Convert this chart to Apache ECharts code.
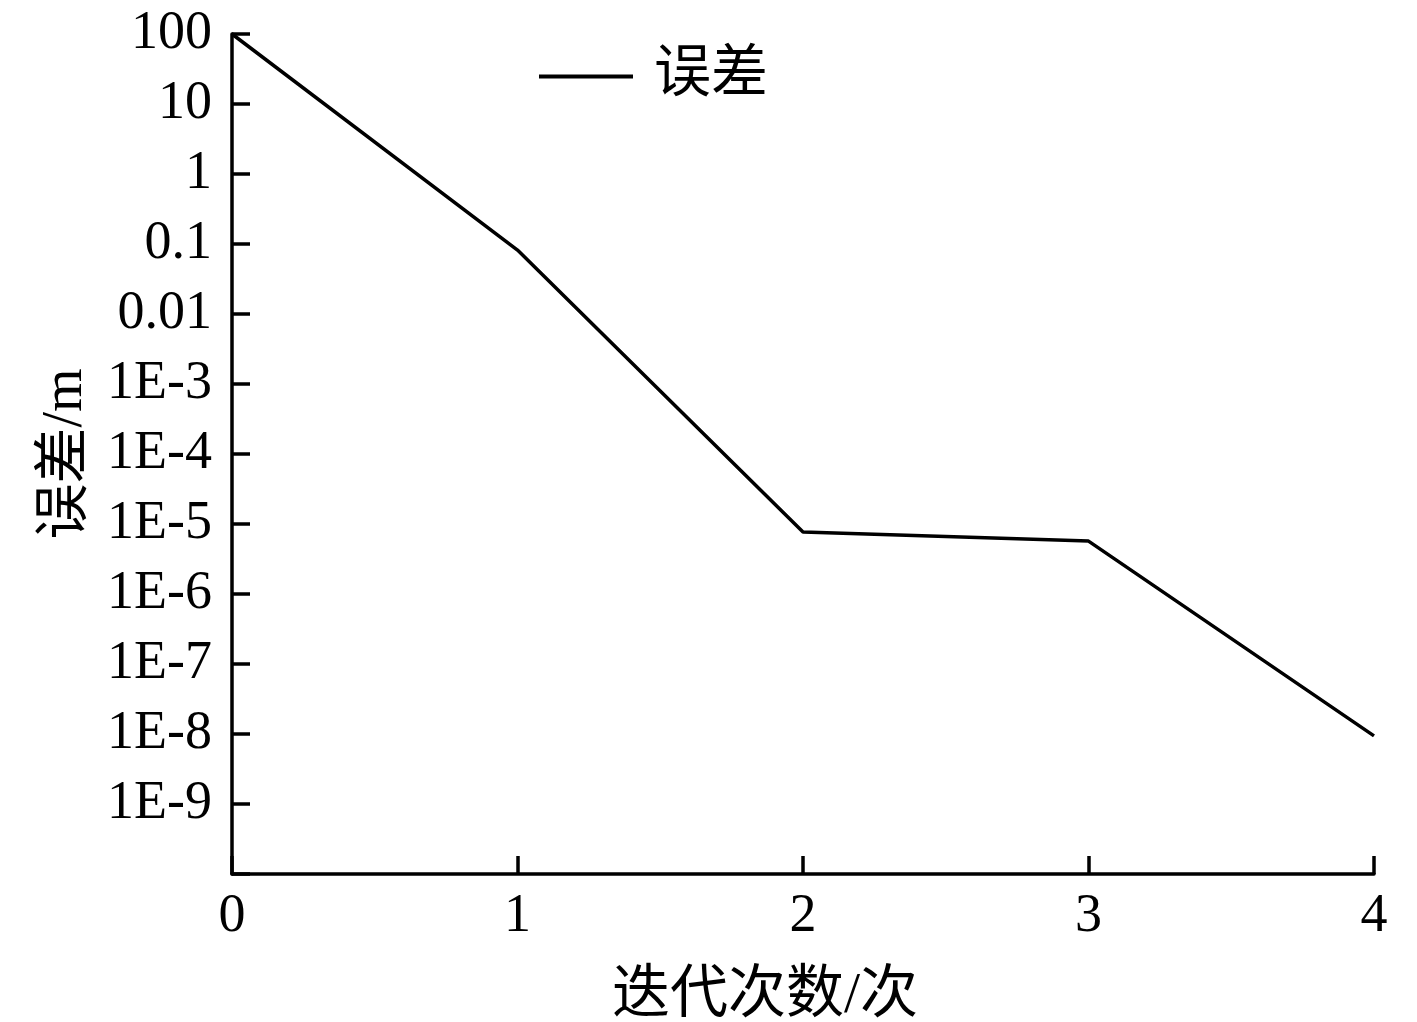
<!DOCTYPE html>
<html><head><meta charset="utf-8">
<script src="https://cdn.jsdelivr.net/npm/echarts@6/dist/echarts.min.js"></script>
<style>html,body{margin:0;padding:0;background:#fff}#c{width:1417px;height:1022px}</style>
</head><body><div id="c"></div>
<script>
const iterations = [0, 1, 2, 3, 4];
const errorValues = [100, 0.082, 7.7e-6, 5.7e-6, 9.4e-9];
const seriesName = '误差';
const xTitle = '迭代次数/次';
const yTitle = '误差/m';

const FONT = "'Liberation Serif', 'Noto Sans CJK SC', serif";
const chart = echarts.init(document.getElementById('c'));
function yLabel(v) {
  const e = Math.round(Math.log10(v));
  if (e <= -10) return '';
  if (e >= 0) return String(Math.pow(10, e));
  if (e === -1) return '0.1';
  if (e === -2) return '0.01';
  return '1E' + e;
}
chart.setOption({
  animation: false,
  backgroundColor: '#fff',
  grid: { left: 232, right: 43, top: 34, bottom: 148, containLabel: false, outerBoundsMode: 'none' },
  legend: {
    left: 534, top: 43,
    icon: 'rect', itemWidth: 94, itemHeight: 4,
    data: [seriesName],
    textStyle: { fontFamily: FONT, fontSize: 57, color: '#000', padding: [0, 0, 0, 16] }
  },
  xAxis: {
    type: 'value', min: 0, max: 4, interval: 1,
    name: xTitle, nameLocation: 'middle', nameGap: 94,
    nameTextStyle: { fontFamily: FONT, fontSize: 58, color: '#000', padding: [0, 76, 0, 0] },
    axisLine: { lineStyle: { color: '#000', width: 3.5 } },
    axisTick: { inside: true, length: 18, lineStyle: { color: '#000', width: 3.5 } },
    axisLabel: { fontFamily: FONT, fontSize: 54, color: '#000', margin: 16 },
    splitLine: { show: false }
  },
  yAxis: {
    type: 'log', logBase: 10, min: 1e-10, max: 100, interval: 1,
    name: yTitle, nameLocation: 'middle', nameGap: 138, nameRotate: 90,
    nameTextStyle: { fontFamily: FONT, fontSize: 56, color: '#000' },
    axisLine: { lineStyle: { color: '#000', width: 3.5 } },
    axisTick: { inside: true, length: 18, lineStyle: { color: '#000', width: 3.5 } },
    axisLabel: { fontFamily: FONT, fontSize: 54, color: '#000', margin: 20, formatter: yLabel },
    splitLine: { show: false }
  },
  series: [{
    name: seriesName, type: 'line', symbol: 'none', smooth: false,
    lineStyle: { color: '#000', width: 3.5 }, itemStyle: { color: '#000' },
    data: iterations.map((x, i) => [x, errorValues[i]])
  }]
});
</script></body></html>
